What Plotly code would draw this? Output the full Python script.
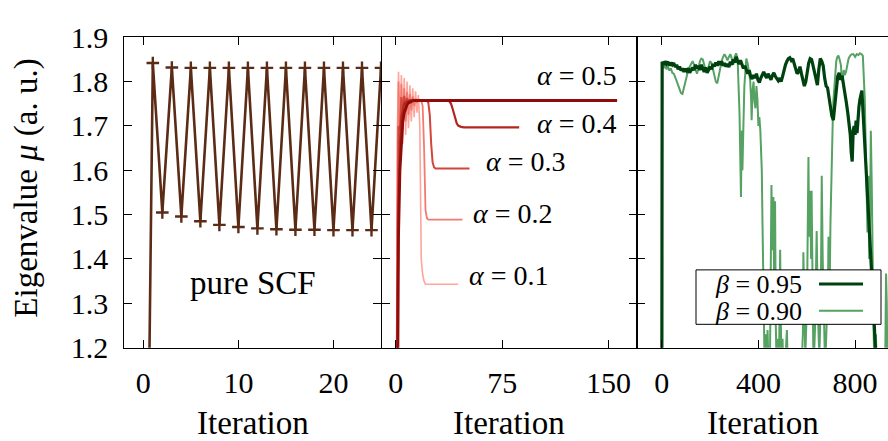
import plotly.graph_objects as go

W, H = 888, 441

# ---------------- data ----------------
scf_iter = list(range(0, 26))
scf_val = [0.0, 1.842, 1.505, 1.832, 1.496, 1.831, 1.485, 1.831, 1.477, 1.831, 1.472, 1.831,
           1.469, 1.831, 1.467, 1.831, 1.466, 1.831, 1.466, 1.831, 1.465, 1.831, 1.465, 1.831,
           1.465, 1.831]

a5_iter = [0, 1, 2, 3, 4, 5, 6, 7, 8, 9, 10, 11, 12, 14, 156]
a5_val = [0.3, 1.05, 1.45, 1.60, 1.67, 1.71, 1.73, 1.742, 1.748, 1.752, 1.754, 1.756, 1.757, 1.7575, 1.7575]

a4_iter = [0, 1, 2, 3, 4, 5, 6, 7, 8, 9, 10, 12, 36, 38, 39, 40, 41, 42, 43, 44, 45, 46, 48, 87]
a4_val = [0.3, 1.15, 1.52, 1.66, 1.72, 1.74, 1.75, 1.754, 1.756, 1.757, 1.7575, 1.7575, 1.7575,
          1.755, 1.750, 1.740, 1.727, 1.714, 1.706, 1.701, 1.699, 1.698, 1.697, 1.697]

a3_iter = [0, 1, 2, 3, 4, 5, 6, 7, 8, 9, 10, 11, 12, 13, 14, 22, 23, 24, 25, 26, 27, 28, 52]
a3_val = [0.3, 1.30, 1.70, 1.69, 1.765, 1.73, 1.768, 1.745, 1.763, 1.750, 1.760, 1.754, 1.759,
          1.756, 1.7575, 1.7575, 1.752, 1.725, 1.66, 1.618, 1.607, 1.604, 1.604]

a2_iter = [0, 1, 2, 3, 4, 5, 6, 7, 8, 9, 10, 11, 12, 13, 14, 15, 16, 17, 18, 19, 20, 21, 22, 23, 47]
a2_val = [0.3, 1.45, 1.80, 1.66, 1.795, 1.69, 1.785, 1.71, 1.777, 1.725, 1.772, 1.735, 1.767,
          1.745, 1.762, 1.752, 1.759, 1.757, 1.757, 1.745, 1.65, 1.51, 1.492, 1.489, 1.489]

a1_iter = [0, 1, 2, 3, 4, 5, 6, 7, 8, 9, 10, 11, 12, 13, 14, 15, 16, 17, 18, 19, 20, 21, 44]
a1_val = [0.3, 1.66, 1.822, 1.64, 1.815, 1.66, 1.808, 1.68, 1.800, 1.695, 1.792, 1.71, 1.785,
          1.72, 1.778, 1.73, 1.770, 1.70, 1.40, 1.365, 1.35, 1.343, 1.343]

alpha_labels = ["<i>α</i> = 0.5", "<i>α</i> = 0.4", "<i>α</i> = 0.3", "<i>α</i> = 0.2", "<i>α</i> = 0.1"]

b95_iter = [0, 2, 8, 14, 20, 26, 32, 38, 44, 50, 56, 62, 68, 74, 80, 86, 92, 98, 104, 110, 116, 122,
            128, 134, 140, 146, 152, 158, 164, 170, 176, 182, 188, 194, 200, 206, 212, 218, 224, 230,
            236, 242, 248, 254, 260, 266, 272, 278, 284, 290, 296, 302, 308, 314, 320, 326, 332, 338,
            344, 350, 356, 362, 368, 374, 380, 386, 392, 398, 404, 410, 416, 422, 428, 434, 440, 446,
            452, 458, 464, 470, 476, 482, 488, 494, 500, 506, 512, 518, 524, 530, 536, 542, 548, 554,
            560, 566, 572, 578, 584, 590, 596, 602, 608, 614, 620, 626, 632, 638, 644, 650, 656, 662,
            668, 674, 680, 686, 692, 698, 704, 710, 716, 722, 728, 734, 740, 746, 752, 758, 764, 770,
            776, 780, 784, 788, 792, 796, 800, 804, 808, 812, 816, 820, 824, 828, 832, 836, 840, 846,
            852, 858, 864, 870, 876, 882, 888, 900]
b95_val = [0.60, 1.845, 1.838, 1.846, 1.840, 1.845, 1.836, 1.843, 1.838, 1.842, 1.833, 1.838, 1.828,
           1.834, 1.825, 1.830, 1.822, 1.829, 1.824, 1.830, 1.820, 1.828, 1.832, 1.826, 1.838, 1.830,
           1.836, 1.826, 1.838, 1.830, 1.822, 1.832, 1.820, 1.826, 1.834, 1.828, 1.840, 1.834, 1.843,
           1.836, 1.846, 1.838, 1.846, 1.836, 1.842, 1.834, 1.840, 1.833, 1.845, 1.838, 1.850, 1.843,
           1.856, 1.846, 1.840, 1.848, 1.836, 1.830, 1.836, 1.824, 1.818, 1.826, 1.812, 1.806, 1.815,
           1.808, 1.818, 1.804, 1.798, 1.808, 1.816, 1.822, 1.814, 1.808, 1.818, 1.810, 1.804, 1.814,
           1.820, 1.812, 1.806, 1.802, 1.808, 1.800, 1.812, 1.826, 1.838, 1.846, 1.852, 1.854, 1.848,
           1.852, 1.840, 1.826, 1.818, 1.822, 1.834, 1.818, 1.802, 1.790, 1.800, 1.826, 1.842, 1.852,
           1.850, 1.836, 1.818, 1.800, 1.792, 1.828, 1.852, 1.846, 1.836, 1.808, 1.790, 1.786, 1.760,
           1.748, 1.722, 1.713, 1.745, 1.785, 1.812, 1.820, 1.804, 1.814, 1.796, 1.770, 1.752, 1.728,
           1.698, 1.680, 1.640, 1.620, 1.690, 1.700, 1.680, 1.712, 1.684, 1.722, 1.744, 1.760, 1.772,
           1.780, 1.740, 1.700, 1.650, 1.590, 1.540, 1.500, 1.440, 1.360, 1.290, 1.220, 1.160, 1.050]

b90_iter = [0, 2, 8, 14, 20, 26, 32, 38, 44, 50, 56, 62, 68, 74, 80, 86, 92, 98, 104, 110, 116, 122,
            128, 134, 140, 146, 152, 158, 164, 170, 176, 182, 188, 194, 200, 206, 212, 218, 224, 230,
            236, 242, 248, 254, 260, 266, 272, 278, 284, 290, 296, 302, 308, 314, 318, 322, 326, 328,
            330, 332, 334, 336, 338, 342, 346, 350, 356, 362, 366, 370, 372, 376, 380, 384, 388, 392,
            396, 400, 404, 408, 412, 414, 417, 420, 423, 426, 430, 434, 438, 442, 446, 450, 454, 458,
            462, 466, 469, 472, 476, 480, 484, 488, 490, 493, 496, 500, 506, 512, 518, 524, 530, 540,
            550, 560, 570, 578, 584, 586, 590, 594, 598, 602, 607, 610, 614, 618, 620, 624, 628, 634,
            641, 646, 652, 658, 662, 666, 670, 676, 682, 688, 690, 694, 698, 703, 707, 710, 714, 717,
            722, 726, 731, 736, 741, 745, 749, 753, 758, 763, 768, 773, 779, 786, 793, 800, 807, 814,
            820, 827, 832, 836, 840, 844, 848, 851, 855, 858, 862, 865, 869, 872, 876, 880, 886, 892,
            900, 910, 920, 925, 928, 931, 934]
b90_val = [0.60, 1.836, 1.830, 1.838, 1.828, 1.834, 1.825, 1.830, 1.820, 1.818, 1.810, 1.800, 1.790,
           1.782, 1.774, 1.772, 1.785, 1.800, 1.815, 1.826, 1.834, 1.842, 1.846, 1.838, 1.826, 1.818,
           1.830, 1.846, 1.852, 1.850, 1.838, 1.826, 1.822, 1.836, 1.846, 1.842, 1.830, 1.812, 1.800,
           1.796, 1.816, 1.832, 1.846, 1.856, 1.862, 1.856, 1.848, 1.856, 1.862, 1.852, 1.838, 1.856,
           1.864, 1.852, 1.800, 1.727, 1.600, 1.540, 1.640, 1.690, 1.600, 1.630, 1.700, 1.790, 1.830,
           1.852, 1.840, 1.812, 1.803, 1.760, 1.713, 1.780, 1.800, 1.755, 1.740, 1.790, 1.760, 1.700,
           1.720, 1.690, 1.640, 1.602, 1.480, 1.380, 1.250, 1.150, 1.230, 1.180, 1.240, 1.120, 1.060,
           1.300, 1.567, 1.420, 1.540, 1.300, 1.530, 1.250, 1.140, 1.220, 1.100, 1.300, 1.421, 1.250,
           1.150, 1.220, 1.080, 1.180, 1.240, 1.100, 1.050, 1.080, 1.120, 1.060, 1.100, 1.150, 1.230,
           1.415, 1.300, 1.180, 1.250, 1.350, 1.630, 1.450, 1.554, 1.400, 1.554, 1.300, 1.150, 1.240,
           1.463, 1.280, 1.180, 1.300, 1.588, 1.400, 1.200, 1.150, 1.250, 1.350, 1.450, 1.300, 1.480,
           1.644, 1.700, 1.755, 1.790, 1.824, 1.846, 1.855, 1.859, 1.850, 1.838, 1.810, 1.800, 1.826,
           1.815, 1.824, 1.840, 1.852, 1.858, 1.862, 1.862, 1.856, 1.862, 1.860, 1.864, 1.862, 1.858,
           1.820, 1.760, 1.650, 1.560, 1.460, 1.588, 1.400, 1.500, 1.689, 1.560, 1.350, 1.250, 1.150,
           1.230, 1.100, 1.050, 1.120, 1.150, 1.200, 1.367, 1.300, 1.100]

beta_labels = ["<i>β</i> = 0.95", "<i>β</i> = 0.90"]

y_ticks = [1.2, 1.3, 1.4, 1.5, 1.6, 1.7, 1.8, 1.9]

# ---------------- styles ----------------
FONT = "Liberation Serif"
BROWN = "#5b2b16"
REDS = {"0.5": "#8e0c0a", "0.4": "#b3261f", "0.3": "#d2453b", "0.2": "#f27a70", "0.1": "#ffa59c"}
DGREEN = "#00420f"
LGREEN = "#56a262"

fig = go.Figure()

fig.add_trace(go.Scatter(x=scf_iter, y=scf_val, mode="lines+markers", xaxis="x", yaxis="y",
                         line=dict(color=BROWN, width=2.6),
                         marker=dict(symbol="cross-thin", size=9, color=BROWN,
                                     line=dict(color=BROWN, width=2.4)),
                         showlegend=False))

for it, val, key, w in [(a1_iter, a1_val, "0.1", 1.6), (a2_iter, a2_val, "0.2", 1.8),
                        (a3_iter, a3_val, "0.3", 2.0), (a4_iter, a4_val, "0.4", 2.2),
                        (a5_iter, a5_val, "0.5", 2.8)]:
    fig.add_trace(go.Scatter(x=it, y=val, mode="lines", xaxis="x2", yaxis="y2",
                             line=dict(color=REDS[key], width=w), showlegend=False))

fig.add_trace(go.Scatter(x=b90_iter, y=b90_val, mode="lines", xaxis="x3", yaxis="y3",
                         line=dict(color=LGREEN, width=2.0), showlegend=False))
fig.add_trace(go.Scatter(x=b95_iter, y=b95_val, mode="lines", xaxis="x3", yaxis="y3",
                         line=dict(color=DGREEN, width=3.2), showlegend=False))

def px_x(p):
    return p / W

def px_y(p):
    return 1 - p / H

ydom = [px_y(358.3), px_y(22)]
common = dict(showline=True, linecolor="black", linewidth=1, ticks="inside", ticklen=8,
              tickwidth=1, tickcolor="black", showgrid=False, zeroline=False,
              tickfont=dict(family=FONT, size=30, color="black"))

fig.update_layout(
    width=W, height=H, margin=dict(l=0, r=0, t=0, b=0),
    paper_bgcolor="white", plot_bgcolor="white",
    font=dict(family=FONT, color="black"),
    xaxis=dict(domain=[px_x(124.3), px_x(381)], range=[-2, 25], tickvals=[0, 10, 20],
               anchor="y", mirror="ticks", ticklabelstandoff=8, **common),
    yaxis=dict(domain=ydom, range=[1.2, 1.9], tickvals=y_ticks, tickformat=".1f",
               anchor="x", mirror="ticks", ticklabelstandoff=9, **common),
    xaxis2=dict(domain=[px_x(381.5), px_x(637)], range=[-10, 170], tickvals=[0, 75, 150],
                anchor="y2", mirror="ticks", ticklabelstandoff=8, **common),
    yaxis2=dict(domain=ydom, range=[1.2, 1.9], tickvals=y_ticks, showticklabels=False,
                anchor="x2", mirror="ticks", **common),
    xaxis3=dict(domain=[px_x(637), 1.0], range=[-102, 936], tickvals=[0, 400, 800],
                anchor="y3", mirror="ticks", ticklabelstandoff=8, **common),
    yaxis3=dict(domain=ydom, range=[1.2, 1.9], tickvals=y_ticks, showticklabels=False,
                anchor="x3", mirror=False, **common),
)

ann = []
# axis titles
for cx in [252.6, 509.2, 762.5]:
    ann.append(dict(text="Iteration", x=px_x(cx), y=px_y(462), xref="paper", yref="paper",
                    xanchor="center", yanchor="bottom", showarrow=False,
                    font=dict(family=FONT, size=33, color="black")))
ann.append(dict(text="Eigenvalue <i>μ</i> (a. u.)", x=px_x(27), y=px_y(186), xref="paper",
                yref="paper", xanchor="center", yanchor="middle", textangle=-90, showarrow=False,
                font=dict(family=FONT, size=33, color="black")))
# panel annotations
ann.append(dict(text="pure SCF", x=11.5, y=1.345, xref="x", yref="y", xanchor="center",
                yanchor="middle", showarrow=False, font=dict(family=FONT, size=33, color="black")))
for lab, lx, ly in zip(alpha_labels, [98.4, 98.4, 61.9, 53.4, 49.9],
                       [1.8146, 1.706, 1.619, 1.502, 1.3625]):
    ann.append(dict(text=lab, x=lx, y=ly, xref="x2", yref="y2", xanchor="left", yanchor="middle",
                    showarrow=False, font=dict(family=FONT, size=28, color="black")))
# legend text
for lab, ry in zip(beta_labels, [289.3, 318.3]):
    ann.append(dict(text=lab, x=px_x(803), y=px_y(ry), xref="paper", yref="paper",
                    xanchor="right", yanchor="middle", showarrow=False, height=28,
                    valign="middle", borderpad=0,
                    font=dict(family=FONT, size=26, color="black")))

shapes = [
    dict(type="rect", xref="paper", yref="paper", x0=px_x(696), x1=px_x(881),
         y0=px_y(333), y1=px_y(274), fillcolor="white", line=dict(color="black", width=1)),
    dict(type="line", xref="paper", yref="paper", x0=px_x(819), x1=px_x(863),
         y0=px_y(289.3), y1=px_y(289.3), line=dict(color=DGREEN, width=3)),
    dict(type="line", xref="paper", yref="paper", x0=px_x(819), x1=px_x(863),
         y0=px_y(318.3), y1=px_y(318.3), line=dict(color=LGREEN, width=2)),
]

fig.update_layout(annotations=ann, shapes=shapes)

fig.write_html("out.html")
